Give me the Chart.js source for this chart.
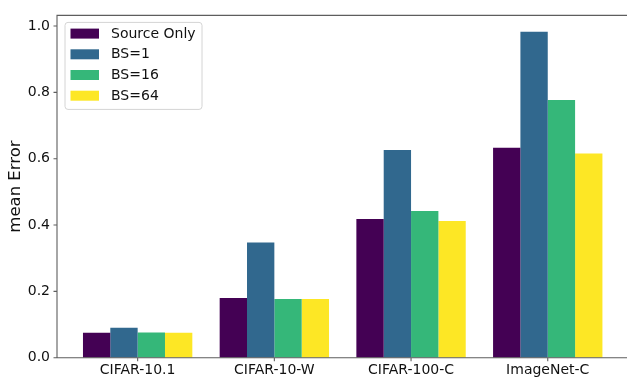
<!DOCTYPE html>
<html>
<head>
<meta charset="utf-8">
<script src="https://cdn.jsdelivr.net/npm/chart.js@4.4.1/dist/chart.umd.min.js"></script>
<style>
  html, body { margin: 0; padding: 0; background: #ffffff; overflow: hidden; }
  #wrap { width: 627px; height: 377px; overflow: hidden; position: relative; background: #ffffff; }
  canvas { display: block; }
</style>
</head>
<body>
<div id="wrap"><canvas id="c" width="700" height="377"></canvas></div>
<script>
// Benchmarks on the x axis
const categories = ['CIFAR-10.1', 'CIFAR-10-W', 'CIFAR-100-C', 'ImageNet-C'];

// Mean error per benchmark for each setting
const sourceOnly = [0.075, 0.180, 0.418, 0.633];
const bs1        = [0.090, 0.347, 0.626, 0.983];
const bs16       = [0.076, 0.177, 0.442, 0.777];
const bs64       = [0.075, 0.177, 0.412, 0.616];

const seriesNames = ['Source Only', 'BS=1', 'BS=16', 'BS=64'];
const yTicks = [0.0, 0.2, 0.4, 0.6, 0.8, 1.0];

const colors = ['#440154', '#31688e', '#35b779', '#fde725'];
const spineColor = '#5e5e5e';
const textColor = '#111111';
const FONT = "'DejaVu Sans', sans-serif";
const TICK_LEN = 3.5;

const allSeries = [sourceOnly, bs1, bs16, bs64];
const yMax = Math.max(...allSeries.flat()) * 1.05;

const datasets = allSeries.map((vals, s) => ({
  label: seriesNames[s],
  data: vals.map((v, i) => ({ x: i, y: v })),
  backgroundColor: colors[s],
  borderWidth: 0,
  categoryPercentage: 0.8,
  barPercentage: 1.0
}));

// Spines, tick marks and the legend box
const decorations = {
  id: 'decorations',
  afterDatasetsDraw(chart) {
    const ctx = chart.ctx;
    const area = chart.chartArea;
    const xs = chart.scales.x, ys = chart.scales.y;
    ctx.save();
    ctx.strokeStyle = spineColor;
    ctx.lineWidth = 1.1;
    ctx.beginPath();
    // left, top and bottom spines
    ctx.moveTo(area.left, area.bottom);
    ctx.lineTo(area.left, area.top);
    ctx.lineTo(area.right, area.top);
    ctx.moveTo(area.left, area.bottom);
    ctx.lineTo(area.right, area.bottom);
    // y tick marks
    yTicks.forEach(v => {
      const y = ys.getPixelForValue(v);
      ctx.moveTo(area.left, y);
      ctx.lineTo(area.left - TICK_LEN, y);
    });
    // x tick marks
    categories.forEach((_, i) => {
      const x = xs.getPixelForValue(i);
      ctx.moveTo(x, area.bottom);
      ctx.lineTo(x, area.bottom + TICK_LEN);
    });
    ctx.stroke();

    // legend frame
    const bx = area.left + 8, by = area.top + 7, bw = 137, bh = 87, r = 3;
    ctx.beginPath();
    ctx.moveTo(bx + r, by);
    ctx.lineTo(bx + bw - r, by);
    ctx.arcTo(bx + bw, by, bx + bw, by + r, r);
    ctx.lineTo(bx + bw, by + bh - r);
    ctx.arcTo(bx + bw, by + bh, bx + bw - r, by + bh, r);
    ctx.lineTo(bx + r, by + bh);
    ctx.arcTo(bx, by + bh, bx, by + bh - r, r);
    ctx.lineTo(bx, by + r);
    ctx.arcTo(bx, by, bx + r, by, r);
    ctx.closePath();
    ctx.fillStyle = 'rgba(255,255,255,0.8)';
    ctx.fill();
    ctx.strokeStyle = '#d4d4d4';
    ctx.lineWidth = 1;
    ctx.stroke();

    // legend entries
    ctx.font = '14px ' + FONT;
    ctx.textBaseline = 'middle';
    ctx.textAlign = 'left';
    chart.data.datasets.forEach((ds, i) => {
      const cy = by + 11.2 + i * 20.7;
      ctx.fillStyle = ds.backgroundColor;
      ctx.fillRect(bx + 5.5, cy - 5, 28.5, 10);
      ctx.fillStyle = textColor;
      ctx.fillText(ds.label, bx + 46, cy + 0.5);
    });
    ctx.restore();
  }
};

new Chart(document.getElementById('c'), {
  type: 'bar',
  data: { datasets },
  options: {
    responsive: false,
    animation: false,
    layout: { padding: { top: 14, right: 71.6, bottom: 0, left: 0 } },
    plugins: {
      legend: { display: false },
      tooltip: { enabled: false }
    },
    scales: {
      x: {
        type: 'linear',
        min: -0.59,
        max: 3.59,
        offset: false,
        afterBuildTicks(scale) {
          scale.ticks = categories.map((_, i) => ({ value: i }));
        },
        afterFit(scale) { scale.height = 19.3; },
        grid: { display: false, drawTicks: false },
        border: { display: false },
        ticks: {
          autoSkip: false,
          maxRotation: 0,
          padding: 6,
          color: textColor,
          font: { family: FONT, size: 14, lineHeight: 1.0 },
          callback: (v) => categories[v]
        }
      },
      y: {
        min: 0,
        max: yMax,
        afterBuildTicks(scale) {
          scale.ticks = yTicks.map(v => ({ value: v }));
        },
        afterFit(scale) { scale.width = 57; },
        grid: { display: false, drawTicks: false },
        border: { display: false },
        title: {
          display: true,
          text: 'mean Error',
          color: textColor,
          font: { family: FONT, size: 16.5 },
          padding: { top: 6, bottom: 0 }
        },
        ticks: {
          padding: 7,
          color: textColor,
          font: { family: FONT, size: 14 },
          callback: (v) => v.toFixed(1)
        }
      }
    }
  },
  plugins: [decorations]
});
</script>
</body>
</html>
